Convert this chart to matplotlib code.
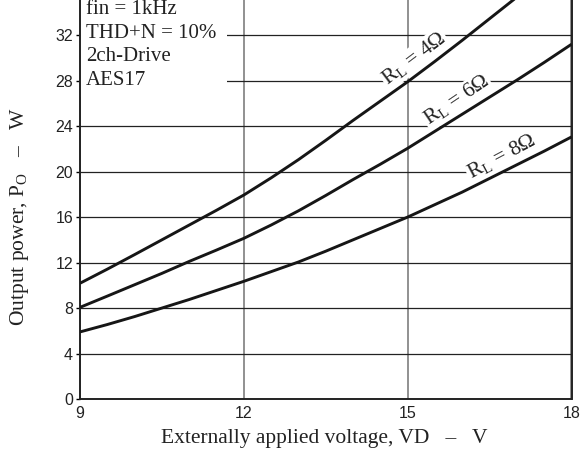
import matplotlib
matplotlib.use('Agg')
import matplotlib.pyplot as plt
from matplotlib.patches import Rectangle

plt.rcParams['font.family'] = 'Liberation Serif'
plt.rcParams['mathtext.fontset'] = 'custom'
plt.rcParams['mathtext.rm'] = 'Liberation Serif'

### data
vd = [9, 9.5, 10, 10.5, 11, 11.5, 12, 12.5, 13, 13.5, 14, 14.5, 15, 15.5, 16, 16.5, 17, 17.5, 18]
po_4ohm = [10.18, 11.42, 12.7, 14.0, 15.3, 16.6, 17.94, 19.45, 21.05, 22.75, 24.5, 26.2,
           27.9, 29.7, 31.55, 33.45, 35.35, 37.3, 39.3]
po_6ohm = [8.06, 9.05, 10.05, 11.05, 12.1, 13.1, 14.13, 15.3, 16.55, 17.9, 19.3, 20.65,
           22.05, 23.55, 25.05, 26.55, 28.05, 29.6, 31.2]
po_8ohm = [5.9, 6.55, 7.25, 8.0, 8.75, 9.55, 10.35, 11.2, 12.05, 13.0, 14.0, 15.0,
           16.0, 17.1, 18.2, 19.4, 20.6, 21.8, 23.05]

curve_labels = [r'R$_{\rm L}$ = 4Ω', r'R$_{\rm L}$ = 6Ω', r'R$_{\rm L}$ = 8Ω']
label_pos = [(15.12, 29.95, 37), (15.9, 26.25, 34), (16.73, 21.25, 28)]

conditions = ['fin = 1kHz', 'THD+N = 10%', '2ch-Drive', 'AES17']

xticks = [9, 12, 15, 18]
yticks = [0, 4, 8, 12, 16, 20, 24, 28, 32]

fig = plt.figure(figsize=(5.83, 4.5), dpi=100)
# top of the axes runs past the picture edge, like the reference crop
ax = fig.add_axes([80/583, 51/450, 491.5/583, 36*11.37/450])

for po in [po_4ohm, po_6ohm, po_8ohm]:
    ax.plot(vd, po, color='#161616', lw=2.1, zorder=4, solid_capstyle='butt')

ax.set_xlim(9, 18)
ax.set_ylim(0, 36)
ax.set_xticks(xticks)
ax.set_yticks(yticks)

ax.set_axisbelow(True)
ax.yaxis.grid(True, color='#222222', lw=0.9)
ax.xaxis.grid(True, color='#888888', lw=1.3)

for s in ['left', 'bottom', 'right']:
    ax.spines[s].set_linewidth(1.4)
    ax.spines[s].set_color('#222222')
ax.spines['top'].set_visible(False)

ax.tick_params(axis='y', direction='out', length=3, width=1, pad=2)
ax.tick_params(axis='x', length=0, pad=5)
for lab in ax.get_xticklabels() + ax.get_yticklabels():
    lab.set_family('Liberation Sans')
    lab.set_fontsize(11.5)
    lab.set_color('#222222')

# white box behind the conditions block
ax.add_patch(Rectangle((9, 26.6), 2.7, 12, facecolor='white', edgecolor='none', zorder=2))
for i, line in enumerate(conditions):
    ax.text(9.11, 34.25 - i*2.07, line, fontsize=15, va='center', ha='left',
            color='#222222', zorder=3)

for lab, (x, y, rot) in zip(curve_labels, label_pos):
    ax.text(x, y, lab, fontsize=15.5, rotation=rot, rotation_mode='anchor',
            ha='center', va='center', color='#222222', zorder=3,
            bbox=dict(facecolor='white', edgecolor='none', pad=1))

ax.set_xlabel('Externally applied voltage, VD   –   V', fontsize=15.5, color='#222222')
ax.set_ylabel(r'Output power, P$_{\rm O}$   –   W', fontsize=15.5, color='#222222')
ax.xaxis.set_label_coords(0.497, -0.073)
ax.yaxis.set_label_coords(-0.1, 0.445)

plt.savefig('out.png', dpi=100)
